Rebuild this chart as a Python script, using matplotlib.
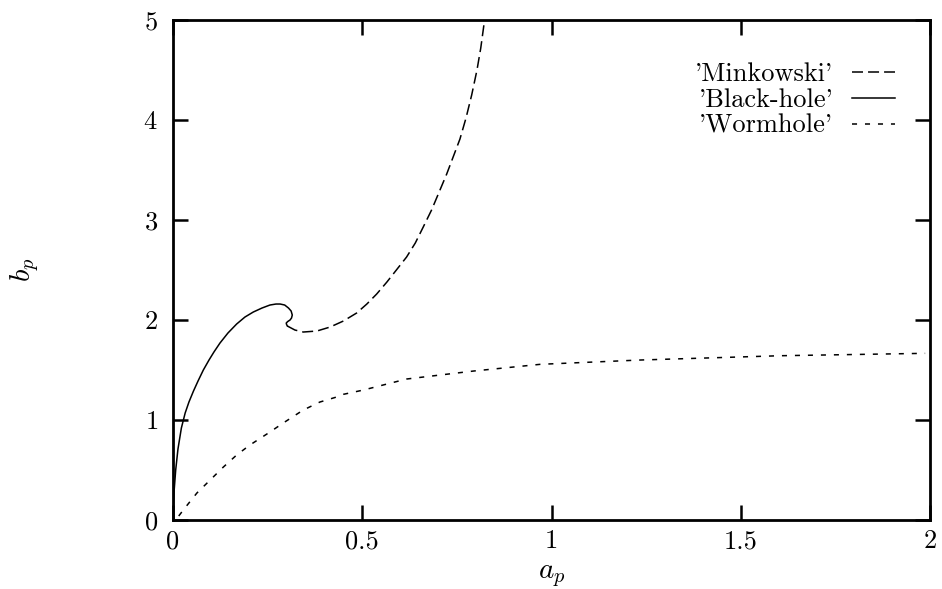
import matplotlib
matplotlib.use("Agg")
import matplotlib.pyplot as plt

plt.rcParams['font.family'] = 'cmr10'
plt.rcParams['mathtext.fontset'] = 'cm'
plt.rcParams['axes.formatter.use_mathtext'] = True

# Black-hole branch (solid)
bh_a = [0.0, 0.001, 0.003, 0.007, 0.013, 0.022, 0.032, 0.042, 0.054, 0.066, 0.080, 0.095,
        0.108, 0.124, 0.145, 0.168, 0.19, 0.212, 0.235, 0.256, 0.272, 0.283, 0.295, 0.305,
        0.312, 0.315, 0.313, 0.309, 0.303, 0.299, 0.300, 0.302]
bh_b = [0.0, 0.1, 0.3, 0.5, 0.71, 0.92, 1.07, 1.18, 1.29, 1.39, 1.5, 1.6,
        1.68, 1.77, 1.87, 1.96, 2.03, 2.08, 2.12, 2.15, 2.16, 2.16, 2.15, 2.12,
        2.09, 2.05, 2.02, 2.0, 1.985, 1.97, 1.955, 1.94]

# Minkowski branch (dashed)
mk_a = [0.302, 0.322, 0.344, 0.38, 0.415, 0.45, 0.485, 0.512, 0.538, 0.565, 0.59, 0.617,
        0.64, 0.661, 0.683, 0.703, 0.723, 0.741, 0.758, 0.774, 0.789, 0.803, 0.813, 0.822]
mk_b = [1.94, 1.90, 1.88, 1.89, 1.93, 1.99, 2.07, 2.16, 2.26, 2.38, 2.5, 2.63,
        2.77, 2.93, 3.10, 3.28, 3.46, 3.64, 3.81, 4.02, 4.25, 4.5, 4.72, 4.97]

# Wormhole branch (short dashes)
wh_a = [0.015, 0.027, 0.063, 0.098, 0.133, 0.168, 0.203, 0.256, 0.291, 0.344, 0.388, 0.432,
        0.45, 0.503, 0.617, 0.794, 0.97, 1.234, 1.604, 1.987]
wh_b = [0.04, 0.1, 0.27, 0.4, 0.53, 0.65, 0.75, 0.88, 0.97, 1.10, 1.18, 1.23,
        1.257, 1.30, 1.41, 1.49, 1.557, 1.60, 1.643, 1.667]

labels = ["'Minkowski'", "'Black-hole'", "'Wormhole'"]
x_ticks = [0, 0.5, 1, 1.5, 2]
x_tick_labels = ["0", "0.5", "1", "1.5", "2"]
y_ticks = [0, 1, 2, 3, 4, 5]

fig = plt.figure(figsize=(9.42, 5.89), dpi=100)
ax = fig.add_axes([0.1837, 0.1171, 0.9873 - 0.1837, 0.966 - 0.1171])

lw = 1.1
ax.plot(mk_a, mk_b, color='black', lw=lw, dashes=(7.2, 3.3), label=labels[0])
ax.plot(bh_a, bh_b, color='black', lw=lw, label=labels[1])
ax.plot(wh_a, wh_b, color='black', lw=lw, dashes=(3.3, 5.2), label=labels[2])

ax.set_xlim(0, 2)
ax.set_ylim(0, 5)
ax.set_xticks(x_ticks)
ax.set_xticklabels(x_tick_labels)
ax.set_yticks(y_ticks)
ax.tick_params(direction='in', top=True, right=True, length=11, width=1.8,
               labelsize=19)
ax.tick_params(axis='x', pad=7)
ax.tick_params(axis='y', pad=11)
for s in ax.spines.values():
    s.set_linewidth(2.0)

ax.set_xlabel(r'$a_p$', fontsize=21)
ax.xaxis.set_label_coords(0.5, -0.085)
ax.set_ylabel(r'$b_p$', fontsize=21)
ax.yaxis.set_label_coords(-0.174, 0.5)

leg = ax.legend(loc='upper right', bbox_to_anchor=(0.954, 0.915), frameon=False,
                markerfirst=False, fontsize=19, handlelength=1.63, handletextpad=0.72,
                labelspacing=0.08, borderpad=0, borderaxespad=0)

fig.savefig('out.png', dpi=100)
